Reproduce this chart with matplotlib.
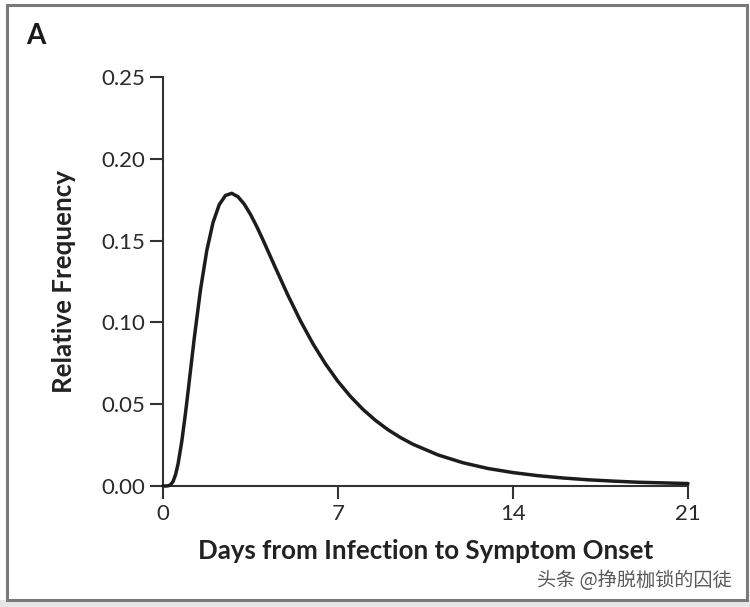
import matplotlib
matplotlib.use("Agg")
import matplotlib.pyplot as plt
from matplotlib.patches import Rectangle

# Values
days = [0, 0.1, 0.2, 0.3, 0.4, 0.5, 0.6, 0.75, 0.9, 1.0, 1.1, 1.25, 1.5, 1.75,
        2.0, 2.25, 2.5, 2.75, 3.0, 3.25, 3.5, 3.75, 4.0, 4.5, 5.0, 5.5, 6.0,
        6.5, 7.0, 7.5, 8.0, 8.5, 9.0, 9.5, 10, 11, 12, 13, 14, 15, 16, 17,
        18, 19, 20, 21]
freq = [0.0, 0.0, 0.0001, 0.0007, 0.0027, 0.0068, 0.0133, 0.0271, 0.0446,
        0.0574, 0.0706, 0.0903, 0.1200, 0.1438, 0.1610, 0.1720, 0.1776,
        0.1789, 0.1768, 0.1723, 0.1660, 0.1586, 0.1504, 0.1333, 0.1165,
        0.1009, 0.0869, 0.0746, 0.0639, 0.0547, 0.0468, 0.0401, 0.0344,
        0.0296, 0.0255, 0.0190, 0.0142, 0.0107, 0.0082, 0.0063, 0.0049,
        0.0038, 0.0030, 0.0023, 0.0019, 0.0015]
xticks = [0, 7, 14, 21]
yticks = [0.00, 0.05, 0.10, 0.15, 0.20, 0.25]
ytick_labels = ["0.00", "0.05", "0.10", "0.15", "0.20", "0.25"]

W, H = 750, 607
fig = plt.figure(figsize=(W / 100, H / 100), dpi=100)
fig.patch.set_facecolor("white")

# outer frame
fig.patches.append(Rectangle((0, 0), 1, 7 / H, transform=fig.transFigure,
                             facecolor="#e6e6e6", edgecolor="none", zorder=0))
fig.patches.append(Rectangle((6.5 / W, 7 / H), (747 - 6.5) / W, (602 - 7) / H,
                             transform=fig.transFigure, facecolor="white",
                             edgecolor="#7a7a7a", linewidth=2.2, zorder=1))

ax = fig.add_axes([163 / W, (H - 486) / H, (688 - 163) / W, (486 - 77) / H])
ax.set_zorder(2)
ax.patch.set_alpha(0)

ax.plot(days, freq, color="#1c1c1c", linewidth=2.5, clip_on=False,
        solid_capstyle="round", solid_joinstyle="round", zorder=3)

ax.set_xlim(0, 21)
ax.set_ylim(0, 0.25)
ax.set_xticks(xticks)
ax.set_xticklabels([str(t) for t in xticks])
ax.set_yticks(yticks)
ax.set_yticklabels(ytick_labels)

for s in ["top", "right"]:
    ax.spines[s].set_visible(False)
for s in ["left", "bottom"]:
    ax.spines[s].set_color("#333333")
    ax.spines[s].set_linewidth(1.5)

ax.tick_params(axis="both", direction="out", length=9.5, width=1.5,
               color="#333333", labelcolor="#2a2a2a", labelsize=16, pad=3.5)
for lab in ax.get_xticklabels() + ax.get_yticklabels():
    lab.set_fontfamily("Lato")

ax.set_xlabel("Days from Infection to Symptom Onset", fontfamily="Lato",
              fontweight="bold", fontsize=18.6, color="#222222", labelpad=11)
ax.set_ylabel("Relative Frequency", fontfamily="Lato", fontweight="bold",
              fontsize=18.6, color="#222222", labelpad=18)

fig.text(26 / W, 1 - 36 / H, "A", fontfamily="Lato", fontweight="bold",
         fontsize=20, color="#1a1a1a", ha="left", va="center")

fig.text(732 / W, 1 - 580 / H, "头条 @挣脱枷锁的囚徒",
         fontfamily=["Noto Sans CJK SC", "DejaVu Sans"], fontsize=13.8,
         color="#5a5a5a", ha="right", va="center")

fig.savefig("out.png", dpi=100, facecolor=fig.get_facecolor())
